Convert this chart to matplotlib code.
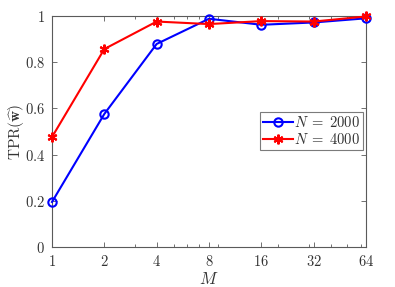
import numpy as np
import matplotlib
matplotlib.use('Agg')
import matplotlib.pyplot as plt
from matplotlib.ticker import FixedLocator, LogLocator, NullFormatter

plt.rcParams['mathtext.fontset'] = 'cm'
plt.rcParams['font.family'] = 'serif'
plt.rcParams['font.serif'] = ['DejaVu Serif']

M = [1, 2, 4, 8, 16, 32, 64]
tpr_2000 = [0.195, 0.576, 0.879, 0.988, 0.962, 0.972, 0.990]
tpr_4000 = [0.476, 0.857, 0.976, 0.965, 0.978, 0.976, 0.998]
y_ticks = [0, 0.2, 0.4, 0.6, 0.8, 1]
y_labels = ['0', '0.2', '0.4', '0.6', '0.8', '1']

fig = plt.figure(figsize=(3.95, 2.87), dpi=100)
ax = fig.add_axes([52 / 395, 40 / 287, 314 / 395, 231 / 287])

ax.plot(M, tpr_2000, color='b', lw=1.5, marker='o', ms=6, mfc='none',
        mew=1.5, clip_on=False, zorder=3, label=r'$N\;=\;2000$')
ax.plot(M, tpr_4000, color='r', lw=1.5, marker=(6, 2, 0), ms=7,
        mew=1.5, clip_on=False, zorder=3, label=r'$N\;=\;4000$')

ax.set_xscale('log')
ax.set_xlim(1, 64)
ax.set_ylim(0, 1)
ax.xaxis.set_major_locator(FixedLocator(M))
ax.set_xticklabels(['$%d$' % m for m in M])
ax.xaxis.set_minor_locator(LogLocator(base=10, subs=np.arange(2, 10)))
ax.xaxis.set_minor_formatter(NullFormatter())
ax.set_yticks(y_ticks)
ax.set_yticklabels(['$%s$' % s for s in y_labels])

gray = '#5a5a5a'
for s in ax.spines.values():
    s.set_color(gray)
    s.set_linewidth(0.8)
ax.tick_params(which='both', direction='in', top=True, right=True,
               color=gray, labelcolor='#333333', labelsize=10.5, width=0.6)
ax.tick_params(which='major', length=3.5, pad=5)
ax.tick_params(which='minor', length=2)

ax.set_xlabel(r'$M$', fontsize=12, color='#333333')
ax.xaxis.set_label_coords(0.5, -0.105)
ax.set_ylabel(r'$\mathrm{TPR}(\widehat{\mathbf{w}})$', fontsize=11,
              color='#333333')
ax.yaxis.set_label_coords(-0.082, 0.5)

leg = ax.legend(loc='upper right', bbox_to_anchor=(0.99, 0.585), fontsize=10.5,
                frameon=True, fancybox=False, handlelength=2.0,
                borderpad=0.2, labelspacing=0.15, handletextpad=0.1,
                borderaxespad=0)
leg.get_frame().set_edgecolor(gray)
leg.get_frame().set_linewidth(0.8)
for t in leg.get_texts():
    t.set_color('#333333')

fig.savefig('out.png', dpi=100)
